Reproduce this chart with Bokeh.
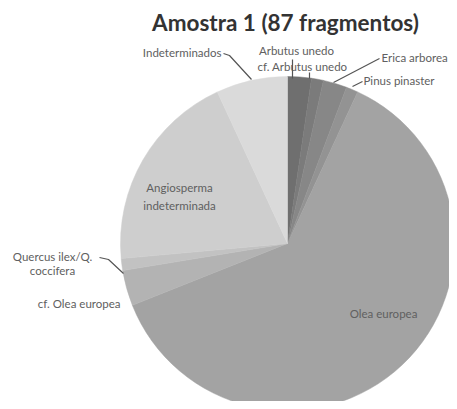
import numpy as np
from bokeh.plotting import figure
from bokeh.models import Range1d
from bokeh.core.properties import value
from bokeh.embed import file_html
from bokeh.resources import INLINE

# ---- data ----
categories = ["Arbutus unedo", "cf. Arbutus unedo", "Erica arborea", "Pinus pinaster",
              "Olea europea", "cf. Olea europea", "Quercus ilex/Q. coccifera",
              "Angiosperma indeterminada", "Indeterminados"]
counts = [2, 1, 2, 1, 54, 3, 1, 17, 6]
title_text = "Amostra 1 (87 fragmentos)"

# ---- styles ----
colors = ["#6f6f6f", "#7b7b7b", "#878787", "#939393", "#a3a3a3",
          "#b3b3b3", "#c2c2c2", "#cecece", "#dadada"]

W, H = 449, 401
def Y(py):
    return H - py

p = figure(width=W, height=H, output_backend="svg", toolbar_location=None,
           x_range=Range1d(0, W), y_range=Range1d(0, H),
           min_border=0)
p.axis.visible = False
p.grid.visible = False
p.outline_line_color = None
p.background_fill_color = "white"

vals = np.array(counts, dtype=float)
frac = vals / vals.sum()
cum = np.concatenate([[0], np.cumsum(frac)])
start = np.pi / 2 - cum[:-1] * 2 * np.pi
end = np.pi / 2 - cum[1:] * 2 * np.pi

cx, cy, r = 287, Y(243), 167
p.wedge(x=cx, y=cy, radius=r, start_angle=start, end_angle=end,
        direction="clock", fill_color=colors, line_color=colors, line_width=0.5)

# title
p.text(x=[285], y=[Y(22)], text=[title_text], text_font=value("Lato"),
       text_font_style="bold", text_font_size="22.5px", text_color="#333333",
       text_align="center", text_baseline="middle")

# labels: (text, x, y, align)
lab_font = value("Lato")
labels = [
    ("Indeterminados", 221, 52, "right"),
    ("Arbutus unedo", 296, 50, "center"),
    ("cf. Arbutus unedo", 302, 66, "center"),
    ("Erica arborea", 381, 57, "left"),
    ("Pinus pinaster", 363, 80, "left"),
    ("Angiosperma", 179, 187, "center"),
    ("indeterminada", 179, 205, "center"),
    ("Quercus ilex/Q.", 52, 256, "center"),
    ("coccifera", 52, 270, "center"),
    ("cf. Olea europea", 120, 303, "right"),
    ("Olea europea", 383, 313, "center"),
]
p.text(x=[l[1] for l in labels], y=[Y(l[2]) for l in labels],
       text=[l[0] for l in labels], text_align=[l[3] for l in labels],
       text_font=lab_font, text_font_size="11.5px", text_color="#606060",
       text_baseline="middle")

# leader lines
leaders = [
    [(223, 53), (229, 55), (251, 79)],
    [(292, 59), (292, 78)],
    [(309, 72), (309, 78)],
    [(379, 58), (333, 82)],
    [(362, 81), (352, 86)],
    [(99, 257), (108, 259), (123, 273)],
]
p.multi_line(xs=[[a[0] for a in l] for l in leaders],
             ys=[[Y(a[1]) for a in l] for l in leaders],
             line_color="#555555", line_width=1.2)

open("out.html", "w").write(file_html(p, INLINE))
